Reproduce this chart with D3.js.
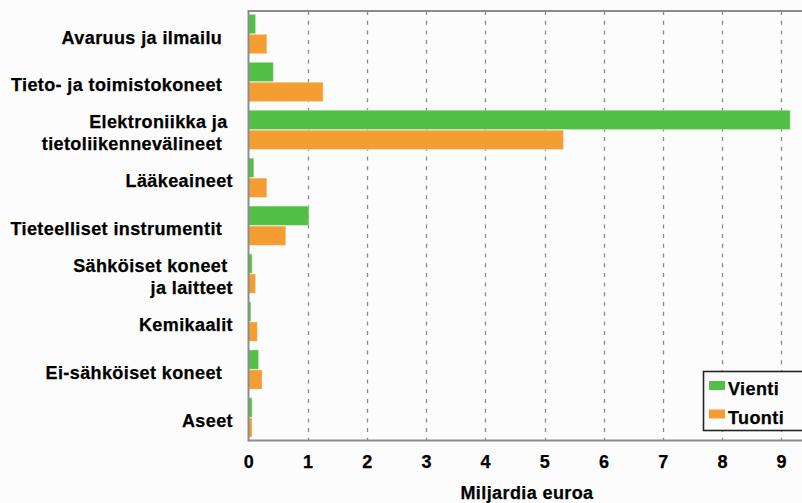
<!DOCTYPE html>
<html>
<head>
<meta charset="utf-8">
<script src="https://cdn.jsdelivr.net/npm/d3@7/dist/d3.min.js"></script>
<style>
  html, body { margin: 0; padding: 0; background: #fcfcfc; }
  svg { display: block; }
  text { font-family: "Liberation Sans", Arial, sans-serif; font-weight: bold; fill: #000; white-space: pre; letter-spacing: 0.4px; stroke: #000; stroke-width: 0.25px; }
</style>
</head>
<body>
<script>
// ---- data ----
const categories = [
  ["Avaruus ja ilmailu  "],
  ["Tieto- ja toimistokoneet  "],
  ["Elektroniikka ja ", "tietoliikennevälineet  "],
  ["Lääkeaineet"],
  ["Tieteelliset instrumentit  "],
  ["Sähköiset koneet ", "ja laitteet"],
  ["Kemikaalit"],
  ["Ei-sähköiset koneet  "],
  ["Aseet"]
];
const seriesNames = ["Vienti", "Tuonti"];
const vienti = [0.12, 0.42, 9.15, 0.09, 1.02, 0.06, 0.04, 0.17, 0.06];
const tuonti = [0.31, 1.26, 5.32, 0.31, 0.63, 0.12, 0.15, 0.23, 0.06];
const xTicks = [0, 1, 2, 3, 4, 5, 6, 7, 8, 9];
const xTitle = "Miljardia euroa";
const colors = ["#52c046", "#f49d33"];

// ---- layout ----
const W = 802, H = 503;
const pLeft = 248.5, pRight = 805, pTop = 11, pBottom = 440.5;

const svg = d3.select("body").append("svg").attr("width", W).attr("height", H);
svg.append("rect").attr("width", W).attr("height", H).attr("fill", "#fcfcfc");

const keys = categories.map((c, i) => i);
const x = d3.scaleLinear().domain([0, 9.4]).range([pLeft, pRight]);
const y0 = d3.scaleBand().domain(keys).range([pTop, pBottom]).paddingInner(0.18).paddingOuter(0.07);
const y1 = d3.scaleBand().domain(seriesNames).range([0, y0.bandwidth()]).paddingInner(0.03);
const values = [vienti, tuonti];

// gridlines
svg.append("g").selectAll("line").data(xTicks.filter(t => t > 0)).join("line")
  .attr("x1", d => Math.round(x(d)) + 0.5).attr("x2", d => Math.round(x(d)) + 0.5)
  .attr("y1", pTop).attr("y2", pBottom)
  .attr("stroke", "#8a8a8a").attr("stroke-width", 1.3).attr("stroke-dasharray", "4,5.7");

// bars
const g = svg.append("g");
seriesNames.forEach((s, si) => {
  g.selectAll(".b" + si).data(keys).join("rect")
    .attr("class", "b" + si)
    .attr("x", x(0))
    .attr("y", i => y0(i) + y1(s))
    .attr("width", i => x(values[si][i]) - x(0))
    .attr("height", y1.bandwidth())
    .attr("fill", colors[si])
    .attr("stroke", "rgba(255,255,255,0.35)")
    .attr("stroke-width", 1);
});

// frame lines
svg.append("line").attr("x1", pLeft).attr("x2", W).attr("y1", pTop).attr("y2", pTop)
  .attr("stroke", "#8c8c8c").attr("stroke-width", 2);
svg.append("line").attr("x1", pLeft).attr("x2", pLeft).attr("y1", pTop - 1).attr("y2", pBottom + 1)
  .attr("stroke", "#8c8c8c").attr("stroke-width", 2);

// x axis
const xAxis = d3.axisBottom(x).tickValues(xTicks).tickSize(0).tickPadding(0).tickFormat(d3.format("d"));
const ax = svg.append("g").attr("transform", `translate(0,${pBottom})`).call(xAxis);
ax.select(".domain").attr("stroke", "#8c8c8c").attr("stroke-width", 2).attr("d", `M${pLeft},0H${W}`);
ax.selectAll(".tick text").attr("dy", null).attr("y", 27.5)
  .style("font-size", "18px").style("font-family", "Liberation Sans, Arial, sans-serif").style("font-weight", "bold").attr("fill", "#000");

svg.append("text").attr("x", 527).attr("y", 499).attr("text-anchor", "middle")
  .style("font-size", "18px").text(xTitle);

// category labels
const lab = svg.append("g");
keys.forEach(i => {
  const lines = categories[i];
  const cy = y0(i) + y0.bandwidth() / 2;
  const t = lab.append("text").attr("text-anchor", "end").style("font-size", "18px");
  if (lines.length === 1) {
    t.append("tspan").attr("x", 233).attr("y", cy + 9.5).text(lines[0]);
  } else {
    t.append("tspan").attr("x", 233).attr("y", cy - 2).text(lines[0]);
    t.append("tspan").attr("x", 233).attr("y", cy + 20).text(lines[1]);
  }
});

// legend
const lg = svg.append("g");
lg.append("rect").attr("x", 703.5).attr("y", 371.5).attr("width", 110).attr("height", 59)
  .attr("fill", "#fcfcfc").attr("stroke", "#222").attr("stroke-width", 1.6);
seriesNames.forEach((s, i) => {
  lg.append("rect").attr("x", 709).attr("y", 381 + i * 28.5).attr("width", 16).attr("height", 9)
    .attr("fill", colors[i]);
  lg.append("text").attr("x", 728).attr("y", 395 + i * 28.5).style("font-size", "18px").text(s);
});
</script>
</body>
</html>
